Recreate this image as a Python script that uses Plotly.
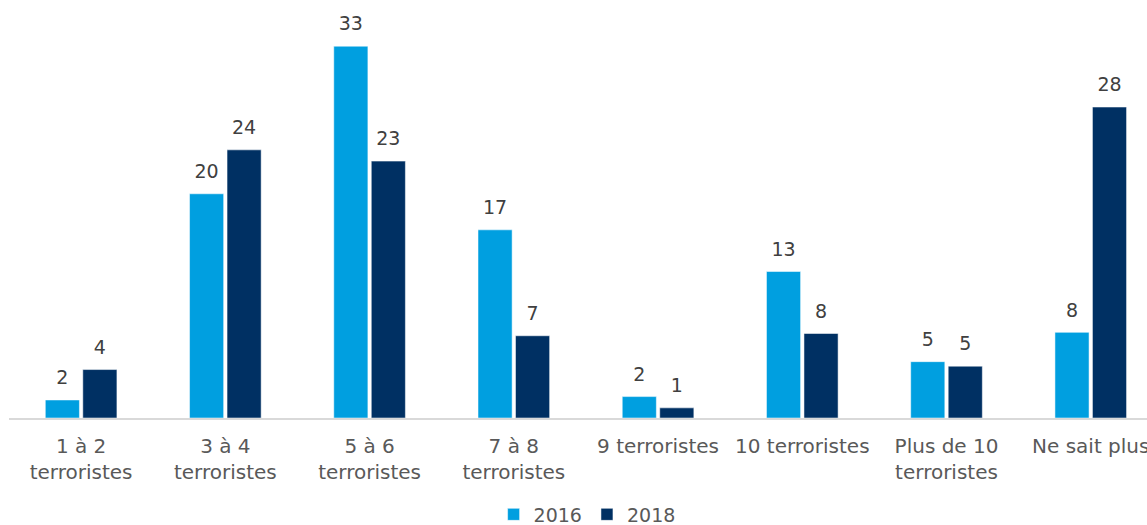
import plotly.graph_objects as go

categories = [
    "1 à 2<br>terroristes",
    "3 à 4<br>terroristes",
    "5 à 6<br>terroristes",
    "7 à 8<br>terroristes",
    "9 terroristes",
    "10 terroristes",
    "Plus de 10<br>terroristes",
    "Ne sait plus",
]
values_2016 = [1.6, 19.9, 33.0, 16.7, 1.9, 13.0, 5.0, 7.6]
values_2018 = [4.3, 23.8, 22.8, 7.3, 0.9, 7.5, 4.6, 27.6]

light_blue = "#009fe0"
navy = "#003063"

BARGAP = 0.48
half_slot = (1 - BARGAP) / 4  # centre of each bar inside its group
X_RANGE = [-0.5, 7.39]

fig = go.Figure()
for name, vals, color in [("2016", values_2016, light_blue), ("2018", values_2018, navy)]:
    fig.add_trace(
        go.Bar(
            x=categories,
            y=vals,
            name=name,
            marker=dict(color=color, line=dict(color="rgba(255,255,255,0.5)", width=1)),
            hovertemplate="%{x}: %{y:.0f}<extra>" + name + "</extra>",
        )
    )

# value labels, on a numeric twin axis so they can sit a bit higher
for k, vals in enumerate([values_2016, values_2018]):
    sign = -1 if k == 0 else 1
    fig.add_trace(
        go.Scatter(
            x=[i + sign * half_slot for i in range(len(vals))],
            y=vals,
            mode="markers+text",
            marker=dict(size=16, opacity=0),
            text=[f"{round(v)}" for v in vals],
            textposition="top center",
            textfont=dict(size=19, color="#404040"),
            xaxis="x2",
            showlegend=False,
            hoverinfo="skip",
            cliponaxis=False,
        )
    )

fig.update_layout(
    width=1147,
    height=525,
    margin=dict(l=9, r=0, t=0, b=107),
    plot_bgcolor="white",
    paper_bgcolor="white",
    barmode="group",
    bargap=BARGAP,
    bargroupgap=0.09,
    font=dict(family="DejaVu Sans, Verdana, sans-serif", size=20, color="#595959"),
    legend=dict(
        orientation="h",
        x=0.508,
        xanchor="center",
        yref="container",
        y=0.02,
        yanchor="middle",
        font=dict(size=19, color="#595959"),
        itemwidth=30,
        traceorder="normal",
    ),
    showlegend=True,
    xaxis=dict(
        range=X_RANGE,
        showline=True,
        linecolor="#d9d9d9",
        linewidth=2,
        ticks="outside",
        ticklen=9,
        tickcolor="rgba(0,0,0,0)",
        showgrid=False,
        automargin=False,
        tickfont=dict(size=20, color="#595959"),
    ),
    xaxis2=dict(overlaying="x", range=X_RANGE, visible=False),
    yaxis=dict(range=[0, 37.1], visible=False, showgrid=False),
)

fig.write_html(
    "out.html",
    config={"displayModeBar": False},
    post_script="document.body.style.margin='0';",
)
